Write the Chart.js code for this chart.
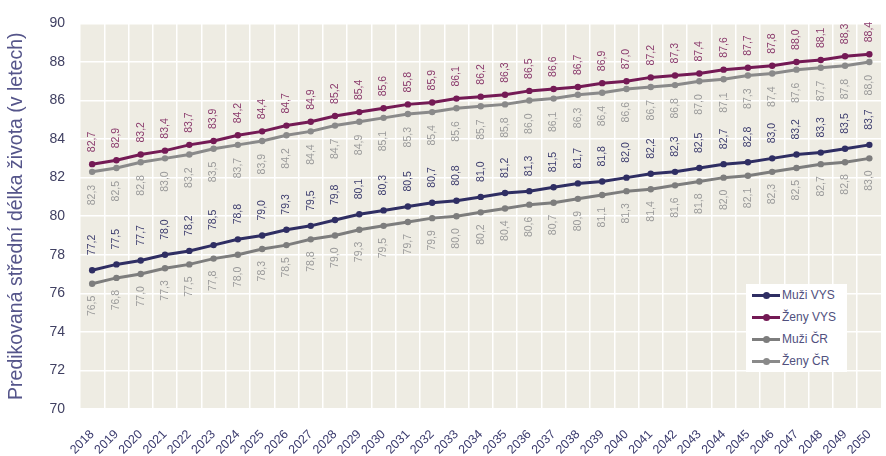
<!DOCTYPE html>
<html lang="cs">
<head>
    <meta charset="UTF-8">
    <title>Predikovaná střední délka života</title>
    <style>
        html, body { margin: 0; padding: 0; background: #fff; overflow: hidden; }
        #wrap {
            position: relative;
            width: 886px;
            height: 456px;
            overflow: hidden;
        }
        #chartBox {
            position: absolute;
            left: 0;
            top: 0;
            width: 898px;
            height: 456px;
        }
        #legend {
            position: absolute;
            left: 746px;
            top: 284px;
            width: 101px;
            height: 88px;
            background: #fff;
            font-family: "Liberation Sans", Arial, sans-serif;
            font-size: 12px;
            color: #50507e;
            padding-top: 0px;
            box-sizing: border-box;
        }
        .item { height: 22px; display: flex; align-items: center; }
        .sym { position: relative; width: 28px; height: 3px; margin: 0 2px 0 6px; }
        .sym::after {
            content: "";
            position: absolute;
            left: 11px; top: -2px;
            width: 7px; height: 7px;
            border-radius: 50%;
            background: inherit;
        }
    </style>
</head>
<body>
<div id="wrap">
    <div id="chartBox"><canvas id="lifeChart"></canvas></div>
    <div id="legend"></div>
</div>

<script src="https://cdn.jsdelivr.net/npm/chart.js@4/dist/chart.umd.min.js"></script>
<script>
    const years = ['2018','2019','2020','2021','2022','2023','2024','2025','2026','2027','2028',
        '2029','2030','2031','2032','2033','2034','2035','2036','2037','2038','2039','2040',
        '2041','2042','2043','2044','2045','2046','2047','2048','2049','2050'];

    const muziVys = [77.2, 77.5, 77.7, 78.0, 78.2, 78.5, 78.8, 79.0, 79.3, 79.5, 79.8, 80.1, 80.3,
        80.5, 80.7, 80.8, 81.0, 81.2, 81.3, 81.5, 81.7, 81.8, 82.0, 82.2, 82.3, 82.5, 82.7, 82.8,
        83.0, 83.2, 83.3, 83.5, 83.7];
    const zenyVys = [82.7, 82.9, 83.2, 83.4, 83.7, 83.9, 84.2, 84.4, 84.7, 84.9, 85.2, 85.4, 85.6,
        85.8, 85.9, 86.1, 86.2, 86.3, 86.5, 86.6, 86.7, 86.9, 87.0, 87.2, 87.3, 87.4, 87.6, 87.7,
        87.8, 88.0, 88.1, 88.3, 88.4];
    const muziCr = [76.5, 76.8, 77.0, 77.3, 77.5, 77.8, 78.0, 78.3, 78.5, 78.8, 79.0, 79.3, 79.5,
        79.7, 79.9, 80.0, 80.2, 80.4, 80.6, 80.7, 80.9, 81.1, 81.3, 81.4, 81.6, 81.8, 82.0, 82.1,
        82.3, 82.5, 82.7, 82.8, 83.0];
    const zenyCr = [82.3, 82.5, 82.8, 83.0, 83.2, 83.5, 83.7, 83.9, 84.2, 84.4, 84.7, 84.9, 85.1,
        85.3, 85.4, 85.6, 85.7, 85.8, 86.0, 86.1, 86.3, 86.4, 86.6, 86.7, 86.8, 87.0, 87.1, 87.3,
        87.4, 87.6, 87.7, 87.8, 88.0];

    const FONT = '"Liberation Sans", Arial, sans-serif';

    // labelColor: barva popisku, side: nad (-1) nebo pod (1) bodem
    const series = [
        { label: 'Muži VYS', data: muziVys, color: '#2f2e63', labelColor: '#3d3d6e', side: -1, gap: 15 },
        { label: 'Ženy VYS', data: zenyVys, color: '#741a55', labelColor: '#8a3a6c', side: -1, gap: 12 },
        { label: 'Muži ČR', data: muziCr, color: '#7d7d7d', labelColor: '#9a9a9a', side: 1, gap: 12 },
        { label: 'Ženy ČR', data: zenyCr, color: '#8a8a8a', labelColor: '#9a9a9a', side: 1, gap: 13 }
    ];

    const plotBg = {
        id: 'plotBg',
        beforeDraw(chart) {
            const a = chart.chartArea, ctx = chart.ctx;
            ctx.save();
            ctx.fillStyle = '#eeece3';
            ctx.fillRect(a.left, a.top, a.right - a.left, a.bottom - a.top);
            ctx.restore();
        }
    };

    const valueLabels = {
        id: 'valueLabels',
        afterDatasetsDraw(chart) {
            const ctx = chart.ctx;
            ctx.save();
            ctx.font = '10.5px ' + FONT;
            ctx.textBaseline = 'middle';
            chart.data.datasets.forEach((ds, i) => {
                const s = series[i];
                const meta = chart.getDatasetMeta(i);
                ctx.fillStyle = s.labelColor;
                meta.data.forEach((pt, j) => {
                    const txt = ds.data[j].toFixed(1).replace('.', ',');
                    ctx.save();
                    ctx.translate(pt.x, pt.y + s.side * s.gap);
                    ctx.rotate(-Math.PI / 2);
                    ctx.textAlign = s.side < 0 ? 'left' : 'right';
                    ctx.fillText(txt, 0, 0);
                    ctx.restore();
                });
            });
            ctx.restore();
        }
    };

    const ctx = document.getElementById('lifeChart').getContext('2d');
    const chart = new Chart(ctx, {
        type: 'line',
        data: {
            labels: years,
            datasets: series.map(s => ({
                label: s.label,
                data: s.data,
                borderColor: s.color,
                backgroundColor: s.color,
                borderWidth: 3,
                pointRadius: 3.2,
                pointHoverRadius: 3.2,
                pointBorderWidth: 0,
                fill: false,
                tension: 0
            }))
        },
        options: {
            responsive: true,
            maintainAspectRatio: false,
            animation: false,
            layout: { padding: { top: 23, left: 0, right: 0, bottom: 0 } },
            plugins: {
                legend: { display: false },
                tooltip: { enabled: false }
            },
            scales: {
                x: {
                    offset: true,
                    grid: { color: '#ffffff', lineWidth: 1.5, drawTicks: false, offset: true },
                    border: { display: false },
                    ticks: {
                        color: '#3b3b6e',
                        font: { family: FONT, size: 12.5 },
                        minRotation: 45,
                        maxRotation: 45,
                        padding: 18,
                        autoSkip: false
                    },
                    afterFit(scale) { scale.height = 47; }
                },
                y: {
                    min: 70,
                    max: 90,
                    grid: { color: '#ffffff', lineWidth: 1.5, drawTicks: false },
                    border: { display: false },
                    ticks: {
                        stepSize: 2,
                        color: '#404062',
                        font: { family: FONT, size: 14 },
                        padding: 15
                    },
                    title: {
                        display: true,
                        text: 'Predikovaná střední délka života (v letech)',
                        color: '#55558a',
                        font: { family: FONT, size: 19.5 },
                        padding: { top: 5, bottom: 0 }
                    },
                    afterFit(scale) { scale.width = 80; }
                }
            }
        },
        plugins: [plotBg, valueLabels]
    });

    // legenda v rámečku uvnitř grafu
    const legendEl = document.getElementById('legend');
    series.forEach(s => {
        const row = document.createElement('div');
        row.className = 'item';
        const sym = document.createElement('span');
        sym.className = 'sym';
        sym.style.background = s.color;
        const txt = document.createElement('span');
        txt.textContent = s.label;
        row.appendChild(sym);
        row.appendChild(txt);
        legendEl.appendChild(row);
    });
</script>
</body>
</html>
